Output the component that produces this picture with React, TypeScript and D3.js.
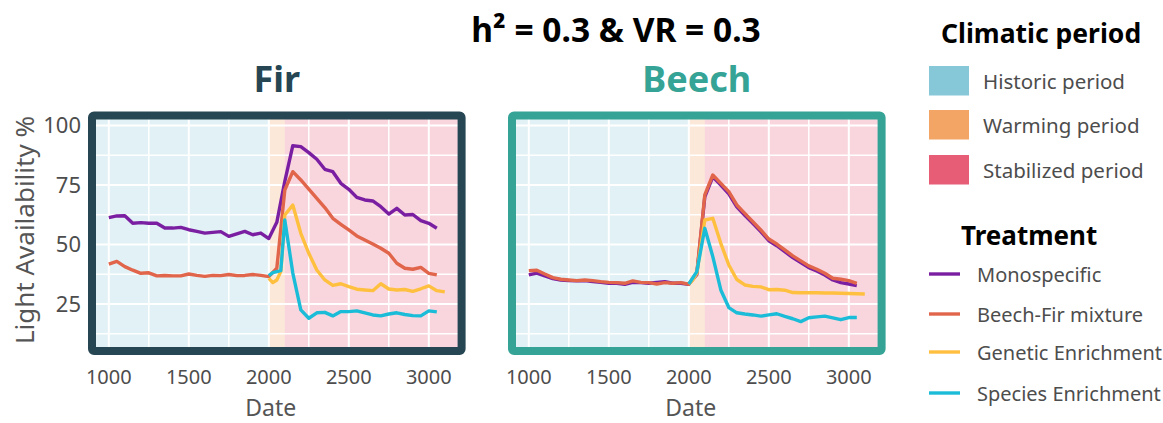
import React from "react";
import * as d3 from "d3";

// ---------- data ----------
const histYears = [1000, 1050, 1100, 1150, 1200, 1250, 1300, 1350, 1400, 1450, 1500, 1550, 1600, 1650, 1700, 1750, 1800, 1850, 1900, 1950];
const mainYears = [...histYears, 2000, 2050, 2100, 2150, 2200, 2250, 2300, 2350, 2400, 2450, 2500, 2550, 2600, 2650, 2700, 2750, 2800, 2850, 2900, 2950, 3000, 3050];

const firMono = [61.3, 62.0, 62.1, 58.9, 59.2, 58.9, 58.9, 56.9, 56.9, 57.2, 56.2, 55.5, 54.8, 55.1, 55.4, 53.4, 54.5, 55.5, 54.1, 54.8, 52.5, 59.3, 76.5, 91.5, 91.1, 88.6, 85.8, 81.6, 80.6, 75.7, 73.2, 69.8, 68.7, 68.3, 65.9, 62.8, 65.2, 62.4, 62.6, 60.0, 58.9, 56.8];
const firMix = [41.8, 42.9, 40.7, 39.2, 37.9, 38.1, 36.8, 37.0, 36.8, 36.8, 37.6, 37.0, 36.6, 37.0, 36.9, 37.4, 36.9, 37.0, 37.4, 37.0, 36.5, 40.0, 72.9, 80.6, 77.1, 73.3, 69.4, 65.5, 61.0, 58.5, 56.1, 53.6, 51.9, 50.2, 48.4, 46.3, 42.1, 40.0, 39.6, 40.4, 37.9, 37.2];
const firGenYears = [2000, 2025, 2050, 2075, 2100, 2150, 2200, 2250, 2300, 2350, 2400, 2450, 2500, 2550, 2600, 2650, 2700, 2750, 2800, 2850, 2900, 2950, 3000, 3050, 3100];
const firGen = [35.8, 34.0, 35.1, 38.6, 62.4, 66.6, 54.7, 46.3, 39.3, 35.1, 32.8, 33.5, 32.3, 31.2, 30.9, 30.6, 33.5, 31.3, 30.9, 31.1, 30.3, 31.4, 32.6, 30.6, 30.1];
const firSpYears = [2000, 2025, 2075, 2100, 2150, 2200, 2250, 2300, 2350, 2400, 2450, 2500, 2550, 2600, 2650, 2700, 2750, 2800, 2850, 2900, 2950, 3000, 3050];
const firSp = [36.9, 38.2, 39.0, 60.3, 38.0, 22.5, 19.0, 21.3, 21.5, 20.0, 21.8, 21.8, 22.1, 21.3, 20.4, 20.0, 20.8, 21.3, 20.6, 20.1, 20.0, 22.1, 21.7];

const beechMono = [37.2, 38.0, 36.8, 35.7, 35.1, 34.8, 34.7, 34.8, 34.4, 34.1, 33.7, 33.7, 33.3, 34.1, 34.0, 33.7, 34.1, 34.4, 33.7, 33.7, 33.3, 37.3, 70.0, 78.4, 75.0, 71.3, 65.8, 62.3, 58.9, 55.4, 51.6, 49.5, 47.0, 44.5, 42.4, 40.3, 38.9, 37.2, 35.1, 34.0, 33.4, 32.7];
const beechMix = [39.0, 39.2, 37.6, 36.1, 35.4, 35.1, 34.8, 35.1, 34.8, 34.4, 34.1, 34.0, 33.7, 34.7, 34.1, 34.0, 33.4, 34.0, 33.7, 34.0, 33.3, 37.9, 70.8, 79.2, 75.7, 72.2, 66.6, 63.1, 59.6, 56.1, 52.3, 50.2, 47.7, 45.2, 43.1, 41.0, 39.6, 37.9, 35.8, 35.4, 34.8, 33.7];
const beechGenYears = [2000, 2025, 2050, 2100, 2150, 2200, 2250, 2300, 2350, 2400, 2450, 2500, 2550, 2600, 2650, 2700, 2750, 2800, 2850, 2900, 2950, 3000, 3050, 3100];
const beechGen = [33.4, 35.1, 37.9, 60.3, 61.0, 50.5, 41.4, 35.3, 33.0, 32.4, 32.2, 31.0, 31.1, 30.8, 29.8, 29.7, 29.7, 29.7, 29.6, 29.6, 29.5, 29.4, 29.3, 29.2];
const beechSpYears = [2000, 2050, 2100, 2150, 2200, 2250, 2300, 2350, 2400, 2450, 2500, 2550, 2600, 2650, 2700, 2750, 2800, 2850, 2900, 2950, 3000, 3050];
const beechSp = [33.4, 38.6, 56.8, 44.9, 30.9, 23.5, 21.3, 20.8, 20.4, 19.9, 20.4, 20.9, 19.8, 18.8, 17.6, 19.2, 19.6, 19.9, 19.2, 18.4, 19.3, 19.3];

const periodNames = ["Historic period", "Warming period", "Stabilized period"];
const periodStart = [-Infinity, 2000, 2100];
const periodEnd = [2000, 2100, Infinity];
const periodColors = ["#86C8D7", "#F3A566", "#E85D76"];

const treatmentNames = ["Monospecific", "Beech-Fir mixture", "Genetic Enrichment", "Species Enrichment"];
const treatmentColors = ["#7B1FA2", "#E0654A", "#FFBF3F", "#1BBCD8"];

const xTicks = [1000, 1500, 2000, 2500, 3000];
const xMinor = [1250, 1750, 2250, 2750];
const yTicks = [25, 50, 75, 100];
const yMinor = [12.5, 37.5, 62.5, 87.5];

const FONT = "'Noto Sans', 'Open Sans', sans-serif";

type Series = { years: number[]; values: number[] };

const panels = [
  {
    name: "Fir",
    color: "#264653",
    left: 92,
    series: [
      { years: mainYears, values: firMono },
      { years: mainYears, values: firMix },
      { years: firGenYears, values: firGen },
      { years: firSpYears, values: firSp },
    ] as Series[],
    showY: true,
  },
  {
    name: "Beech",
    color: "#35A395",
    left: 512,
    series: [
      { years: mainYears, values: beechMono },
      { years: mainYears, values: beechMix },
      { years: beechGenYears, values: beechGen },
      { years: beechSpYears, values: beechSp },
    ] as Series[],
    showY: false,
  },
];

const PW = 369.6;
const TOP = 115.5;
const BOTTOM = 351;

function Panel({ p }: { p: (typeof panels)[number] }) {
  const x = d3.scaleLinear().domain([895, 3205]).range([p.left, p.left + PW]);
  const y = d3.scaleLinear().domain([5.25, 104.2]).range([BOTTOM, TOP]);
  const [x0, x1] = x.range();
  const clamp = (v: number) => Math.max(x0, Math.min(x1, v));
  const line = d3
    .line<[number, number]>()
    .x((d) => x(d[0]))
    .y((d) => y(d[1]));
  const clipId = "clip-" + p.name;
  return (
    <g>
      <defs>
        <clipPath id={clipId}>
          <rect x={x0} y={TOP} width={x1 - x0} height={BOTTOM - TOP} />
        </clipPath>
      </defs>
      <g clipPath={`url(#${clipId})`}>
        {periodNames.map((n, i) => {
          const a = clamp(isFinite(periodStart[i]) ? x(periodStart[i]) : x0);
          const b = clamp(isFinite(periodEnd[i]) ? x(periodEnd[i]) : x1);
          return <rect key={n} x={a} y={TOP} width={b - a} height={BOTTOM - TOP} fill={periodColors[i]} fillOpacity={0.25} />;
        })}
        {xMinor.map((t) => (
          <line key={"xm" + t} x1={x(t)} x2={x(t)} y1={TOP} y2={BOTTOM} stroke="#fff" strokeWidth={1.5} />
        ))}
        {yMinor.map((t) => (
          <line key={"ym" + t} x1={x0} x2={x1} y1={y(t)} y2={y(t)} stroke="#fff" strokeWidth={1.5} />
        ))}
        {xTicks.map((t) => (
          <line key={"xt" + t} x1={x(t)} x2={x(t)} y1={TOP} y2={BOTTOM} stroke="#fff" strokeWidth={2} />
        ))}
        {yTicks.map((t) => (
          <line key={"yt" + t} x1={x0} x2={x1} y1={y(t)} y2={y(t)} stroke="#fff" strokeWidth={2} />
        ))}
        {p.series.map((s, i) => (
          <path
            key={i}
            d={line(s.years.map((yr, j) => [yr, s.values[j]] as [number, number])) || ""}
            fill="none"
            stroke={treatmentColors[i]}
            strokeWidth={3.4}
            strokeLinejoin="round"
            strokeLinecap="butt"
          />
        ))}
      </g>
      <rect x={x0} y={TOP} width={x1 - x0} height={BOTTOM - TOP} fill="none" stroke={p.color} strokeWidth={8} rx={2} />
      {p.showY &&
        yTicks.map((t) => (
          <text key={"yl" + t} x={81} y={y(t) + 8} textAnchor="end" fontSize={22} fill="#4D4D4D" fontFamily={FONT}>
            {t}
          </text>
        ))}
      {xTicks.map((t) => (
        <text key={"xl" + t} x={x(t)} y={384} textAnchor="middle" fontSize={20} fill="#4D4D4D" fontFamily={FONT}>
          {t}
        </text>
      ))}
      <text x={(x0 + x1) / 2 - 6} y={416} textAnchor="middle" fontSize={23} fill="#555" fontFamily={FONT}>
        Date
      </text>
      <text x={(x0 + x1) / 2} y={92} textAnchor="middle" fontSize={36} fontWeight="bold" fill={p.color} fontFamily={FONT}>
        {p.name}
      </text>
    </g>
  );
}

export default function App() {
  const keyY = [66, 110, 155];
  const lineY = [274, 314, 352, 393];
  return (
    <svg width={1163} height={423} style={{ position: "absolute", left: 0, top: 0, background: "#fff" }}>
      <rect width={1163} height={423} fill="#fff" />
      <text x={616} y={42} textAnchor="middle" fontSize={33.5} fontWeight="bold" fill="#000" fontFamily={FONT}>
        h² = 0.3 &amp; VR = 0.3
      </text>
      {panels.map((p) => (
        <Panel key={p.name} p={p} />
      ))}
      <text transform="translate(34,230) rotate(-90)" textAnchor="middle" fontSize={26} fill="#555" fontFamily={FONT}>
        Light Availability %
      </text>
      {/* legend: climatic period */}
      <text x={941} y={43} fontSize={26.5} fontWeight="bold" fill="#000" fontFamily={FONT}>
        Climatic period
      </text>
      {periodNames.map((n, i) => (
        <g key={n}>
          <rect x={929} y={keyY[i]} width={40} height={29.5} fill={periodColors[i]} />
          <text x={983} y={keyY[i] + 15} dominantBaseline="central" fontSize={20.5} fill="#4D4D4D" fontFamily={FONT}>
            {n}
          </text>
        </g>
      ))}
      <text x={961} y={245} fontSize={26} fontWeight="bold" fill="#000" fontFamily={FONT}>
        Treatment
      </text>
      {treatmentNames.map((n, i) => (
        <g key={n}>
          <line x1={929} x2={960} y1={lineY[i]} y2={lineY[i]} stroke={treatmentColors[i]} strokeWidth={3.4} />
          <text x={977} y={lineY[i]} dominantBaseline="central" fontSize={20} fill="#4D4D4D" fontFamily={FONT}>
            {n}
          </text>
        </g>
      ))}
    </svg>
  );
}
